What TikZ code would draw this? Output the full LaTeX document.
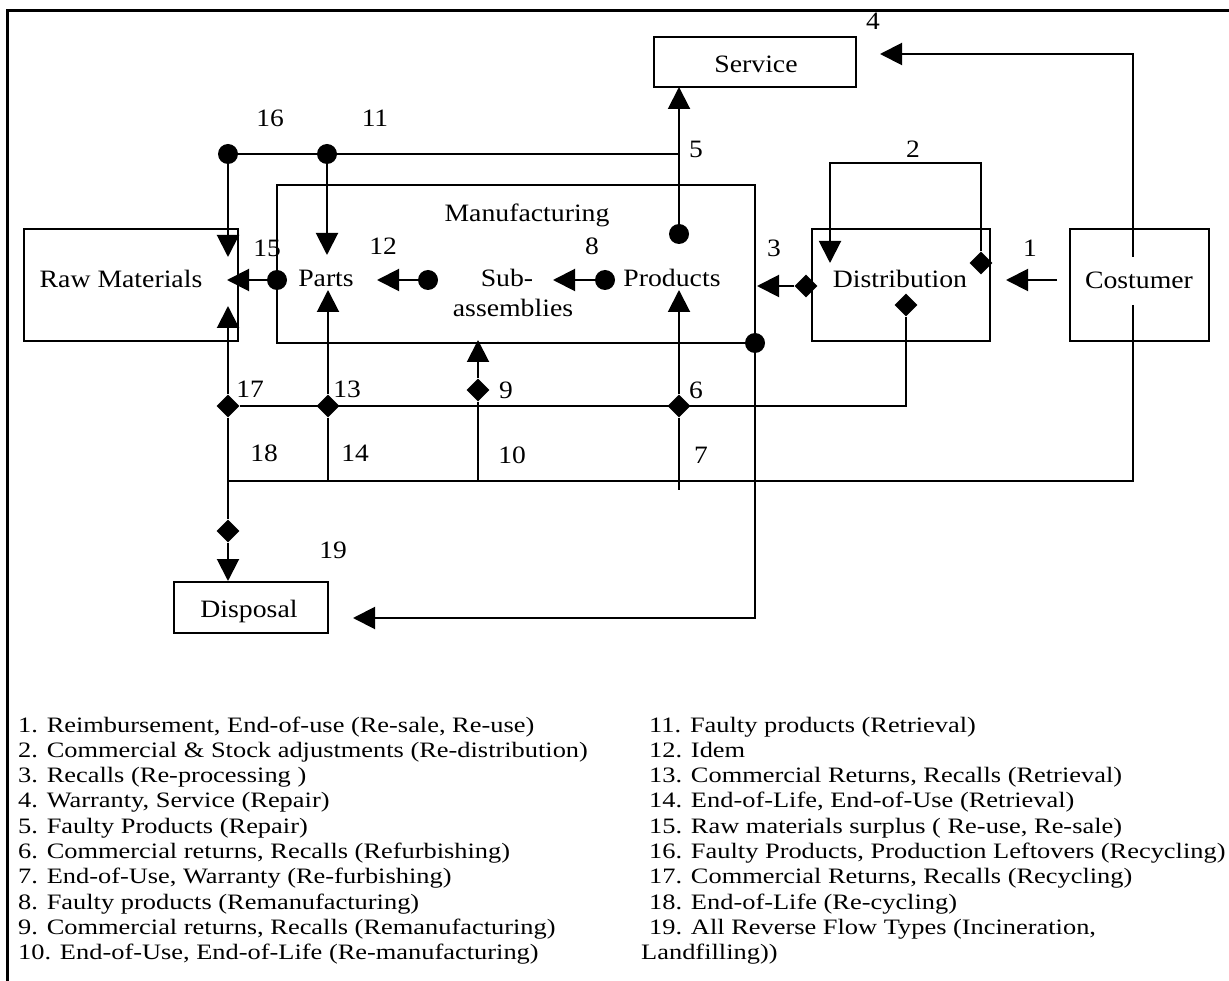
\documentclass[tikz,border=0pt]{standalone}
\usepackage{fontspec}
\setmainfont{Liberation Serif}
\usetikzlibrary{arrows.meta,shapes.geometric}

% horizontally widened text, as the figure's lettering is set
\newcommand{\myxs}[2]{\scalebox{#1}[1]{#2}}

\begin{document}
\begin{tikzpicture}[x=1pt,y=-1pt,
  box/.style={draw,line width=2pt,inner sep=0pt},
  lbl/.style={font=\fontsize{25}{28}\selectfont,inner sep=0pt,anchor=base},
  num/.style={font=\fontsize{25}{28}\selectfont,inner sep=0pt,anchor=base},
  flow/.style={line width=2pt},
  tip/.style={-{Triangle[length=22pt,width=22pt]}},
  dot/.style={circle,fill,inner sep=0pt,minimum size=20pt},
  dia/.style={diamond,fill,inner sep=0pt,minimum width=23pt,minimum height=23pt},
  legend/.style={font=\fontsize{22}{25}\selectfont,anchor=base west,inner sep=0pt},
]
\useasboundingbox (0,0) rectangle (1229,981);

% frame along the top and the left side
\draw[line width=3pt] (7,981) -- (7,10.5) -- (1229,10.5);

% flow numbers
\node[num] (n1)  at (1030,257) {\myxs{1.1}{1}};
\node[num] (n2)  at (913,158) {\myxs{1.1}{2}};
\node[num] (n3)  at (774,257) {\myxs{1.1}{3}};
\node[num] (n4)  at (873,30) {\myxs{1.1}{4}};
\node[num] (n5)  at (696,158) {\myxs{1.1}{5}};
\node[num] (n6)  at (696,399) {\myxs{1.1}{6}};
\node[num] (n7)  at (701,463) {\myxs{1.1}{7}};
\node[num] (n8)  at (592,255) {\myxs{1.1}{8}};
\node[num] (n9)  at (506,399) {\myxs{1.1}{9}};
\node[num] (n10) at (512,463) {\myxs{1.1}{10}};
\node[num] (n11) at (375,127) {\myxs{1.1}{11}};
\node[num] (n12) at (383,255) {\myxs{1.1}{12}};
\node[num] (n13) at (347,398) {\myxs{1.1}{13}};
\node[num] (n14) at (355,461) {\myxs{1.1}{14}};
\node[num] (n15) at (267,257) {\myxs{1.1}{15}};
\node[num] (n16) at (270,127) {\myxs{1.1}{16}};
\node[num] (n17) at (250,398) {\myxs{1.1}{17}};
\node[num] (n18) at (264,461) {\myxs{1.1}{18}};
\node[num] (n19) at (333,558) {\myxs{1.1}{19}};

% boxes
\node[box,minimum width=214pt,minimum height=112pt] (raw)  at (131,285) {};
\node[box,minimum width=478pt,minimum height=158pt] (manu) at (516,264) {};
\node[box,minimum width=202pt,minimum height=50pt]  (serv) at (755,62) {};
\node[box,minimum width=178pt,minimum height=112pt] (dist) at (901,285) {};
\node[box,minimum width=139pt,minimum height=112pt] (cust) at (1139.5,285) {};
\node[box,minimum width=154pt,minimum height=51pt]  (disp) at (251,607.5) {};

% box texts
\node[lbl] (rawt)  at (121,288) {\myxs{1.11}{Raw Materials}};
\node[lbl] (manut) at (527,222) {\myxs{1.11}{Manufacturing}};
\node[lbl] (parts) at (326,287) {\myxs{1.11}{Parts}};
\node[lbl] (subt)  at (507,287) {\myxs{1.11}{Sub-}};
\node[lbl] (asst)  at (513,317) {\myxs{1.11}{assemblies}};
\node[lbl] (prod)  at (672,287) {\myxs{1.11}{Products}};
\node[lbl] (servt) at (756,73) {\myxs{1.11}{Service}};
\node[lbl] (distt) at (900,288) {\myxs{1.11}{Distribution}};
\node[lbl] (custt) at (1139,289) {\myxs{1.11}{Costumer}};
\node[lbl] (dispt) at (249,617) {\myxs{1.11}{Disposal}};

% round and diamond flow starts
\node[dot] (m5)  at (679,234) {};
\node[dot] (m16) at (228,154) {};
\node[dot] (m11) at (327,154) {};
\node[dot] (m15) at (277,280) {};
\node[dot] (m12) at (428,280) {};
\node[dot] (m8)  at (605,280) {};
\node[dot] (mX)  at (755,343) {};
\node[dia] (q2)  at (981,263) {};
\node[dia] (q3)  at (806,286) {};
\node[dia] (qD)  at (906,305) {};
\node[dia] (q17) at (228,406) {};
\node[dia] (q13) at (328,406) {};
\node[dia] (q9)  at (478,390) {};
\node[dia] (q6)  at (679,406) {};
\node[dia] (q19) at (228,531) {};

% bends, junctions and arrow ends
\coordinate (c1)  at (1057,280);
\coordinate (t1)  at (1006,280);
\coordinate (b2a) at (981,163);
\coordinate (b2b) at (830,163);
\coordinate (t2)  at (830,263);
\coordinate (t3)  at (757,286);
\coordinate (c4)  at (1133,257);
\coordinate (b4)  at (1133,54);
\coordinate (t4)  at (880,54);
\coordinate (c18) at (1133,305);
\coordinate (b18) at (1133,481);
\coordinate (j18) at (228,481);
\coordinate (t5)  at (679,87);
\coordinate (j5)  at (679,154);
\coordinate (t16) at (228,257);
\coordinate (t11) at (327,255);
\coordinate (t8)  at (553,280);
\coordinate (t12) at (377,280);
\coordinate (t15) at (227,280);
\coordinate (t17) at (228,306);
\coordinate (t13) at (328,290);
\coordinate (t9)  at (478,340);
\coordinate (t6)  at (679,290);
\coordinate (jD)  at (906,406);
\coordinate (j14) at (328,481);
\coordinate (j10) at (478,481);
\coordinate (e7)  at (679,490);
\coordinate (b3)  at (755,618);
\coordinate (t19) at (353,618);

% connectors
\draw[flow,tip] (c1) -- (t1);
\draw[flow,tip] (q2.north) -- (b2a) -- (b2b) -- (t2);
\draw[flow,tip] (q3) -- (t3);
\draw[flow,tip] (c4) -- (b4) -- (t4);
\draw[flow] (c18) -- (b18) -- (j18);
\draw[flow,tip] (m5) -- (t5);
\draw[flow] (m16) -- (j5);
\draw[flow,tip] (m16) -- (t16);
\draw[flow,tip] (m11) -- (t11);
\draw[flow,tip] (m8) -- (t8);
\draw[flow,tip] (m12) -- (t12);
\draw[flow,tip] (m15) -- (t15);
\draw[flow,tip] (q17) -- (t17);
\draw[flow,tip] (q13) -- (t13);
\draw[flow,tip] (q9) -- (t9);
\draw[flow,tip] (q6) -- (t6);
\draw[flow] (q17) -- (jD) -- (qD);
\draw[flow] (q13) -- (j14);
\draw[flow] (q9) -- (j10);
\draw[flow] (q6) -- (e7);
\draw[flow] (q17) -- (q19);
\draw[flow,tip] (q19) -- (q19 |- disp.north);
\draw[flow,tip] (mX) -- (b3) -- (t19);

% legend
\node[legend] (L1)  at (18,732)   {\myxs{1.2}{1. Reimbursement, End-of-use (Re-sale, Re-use)}};
\node[legend] (L2)  at (18,757.3) {\myxs{1.2}{2. Commercial \& Stock adjustments (Re-distribution)}};
\node[legend] (L3)  at (18,782.6) {\myxs{1.2}{3. Recalls (Re-processing )}};
\node[legend] (L4)  at (18,807.9) {\myxs{1.2}{4. Warranty, Service (Repair)}};
\node[legend] (L5)  at (18,833.2) {\myxs{1.2}{5. Faulty Products (Repair)}};
\node[legend] (L6)  at (18,858.5) {\myxs{1.2}{6. Commercial returns, Recalls (Refurbishing)}};
\node[legend] (L7)  at (18,883.8) {\myxs{1.2}{7. End-of-Use, Warranty (Re-furbishing)}};
\node[legend] (L8)  at (18,909.1) {\myxs{1.2}{8. Faulty products (Remanufacturing)}};
\node[legend] (L9)  at (18,934.4) {\myxs{1.2}{9. Commercial returns, Recalls (Remanufacturing)}};
\node[legend] (L10) at (18,959.7) {\myxs{1.2}{10. End-of-Use, End-of-Life (Re-manufacturing)}};
\node[legend] (L11) at (649,732)   {\myxs{1.2}{11. Faulty products (Retrieval)}};
\node[legend] (L12) at (649,757.3) {\myxs{1.2}{12. Idem}};
\node[legend] (L13) at (649,782.6) {\myxs{1.2}{13. Commercial Returns, Recalls (Retrieval)}};
\node[legend] (L14) at (649,807.9) {\myxs{1.2}{14. End-of-Life, End-of-Use (Retrieval)}};
\node[legend] (L15) at (649,833.2) {\myxs{1.2}{15. Raw materials surplus ( Re-use, Re-sale)}};
\node[legend] (L16) at (649,858.5) {\myxs{1.2}{16. Faulty Products, Production Leftovers (Recycling)}};
\node[legend] (L17) at (649,883.8) {\myxs{1.2}{17. Commercial Returns, Recalls (Recycling)}};
\node[legend] (L18) at (649,909.1) {\myxs{1.2}{18. End-of-Life (Re-cycling)}};
\node[legend] (L19) at (649,934.4) {\myxs{1.2}{19. All Reverse Flow Types (Incineration,}};
\node[legend] (L19b) at (641,959.7) {\myxs{1.2}{Landfilling))}};
\end{tikzpicture}
\end{document}
